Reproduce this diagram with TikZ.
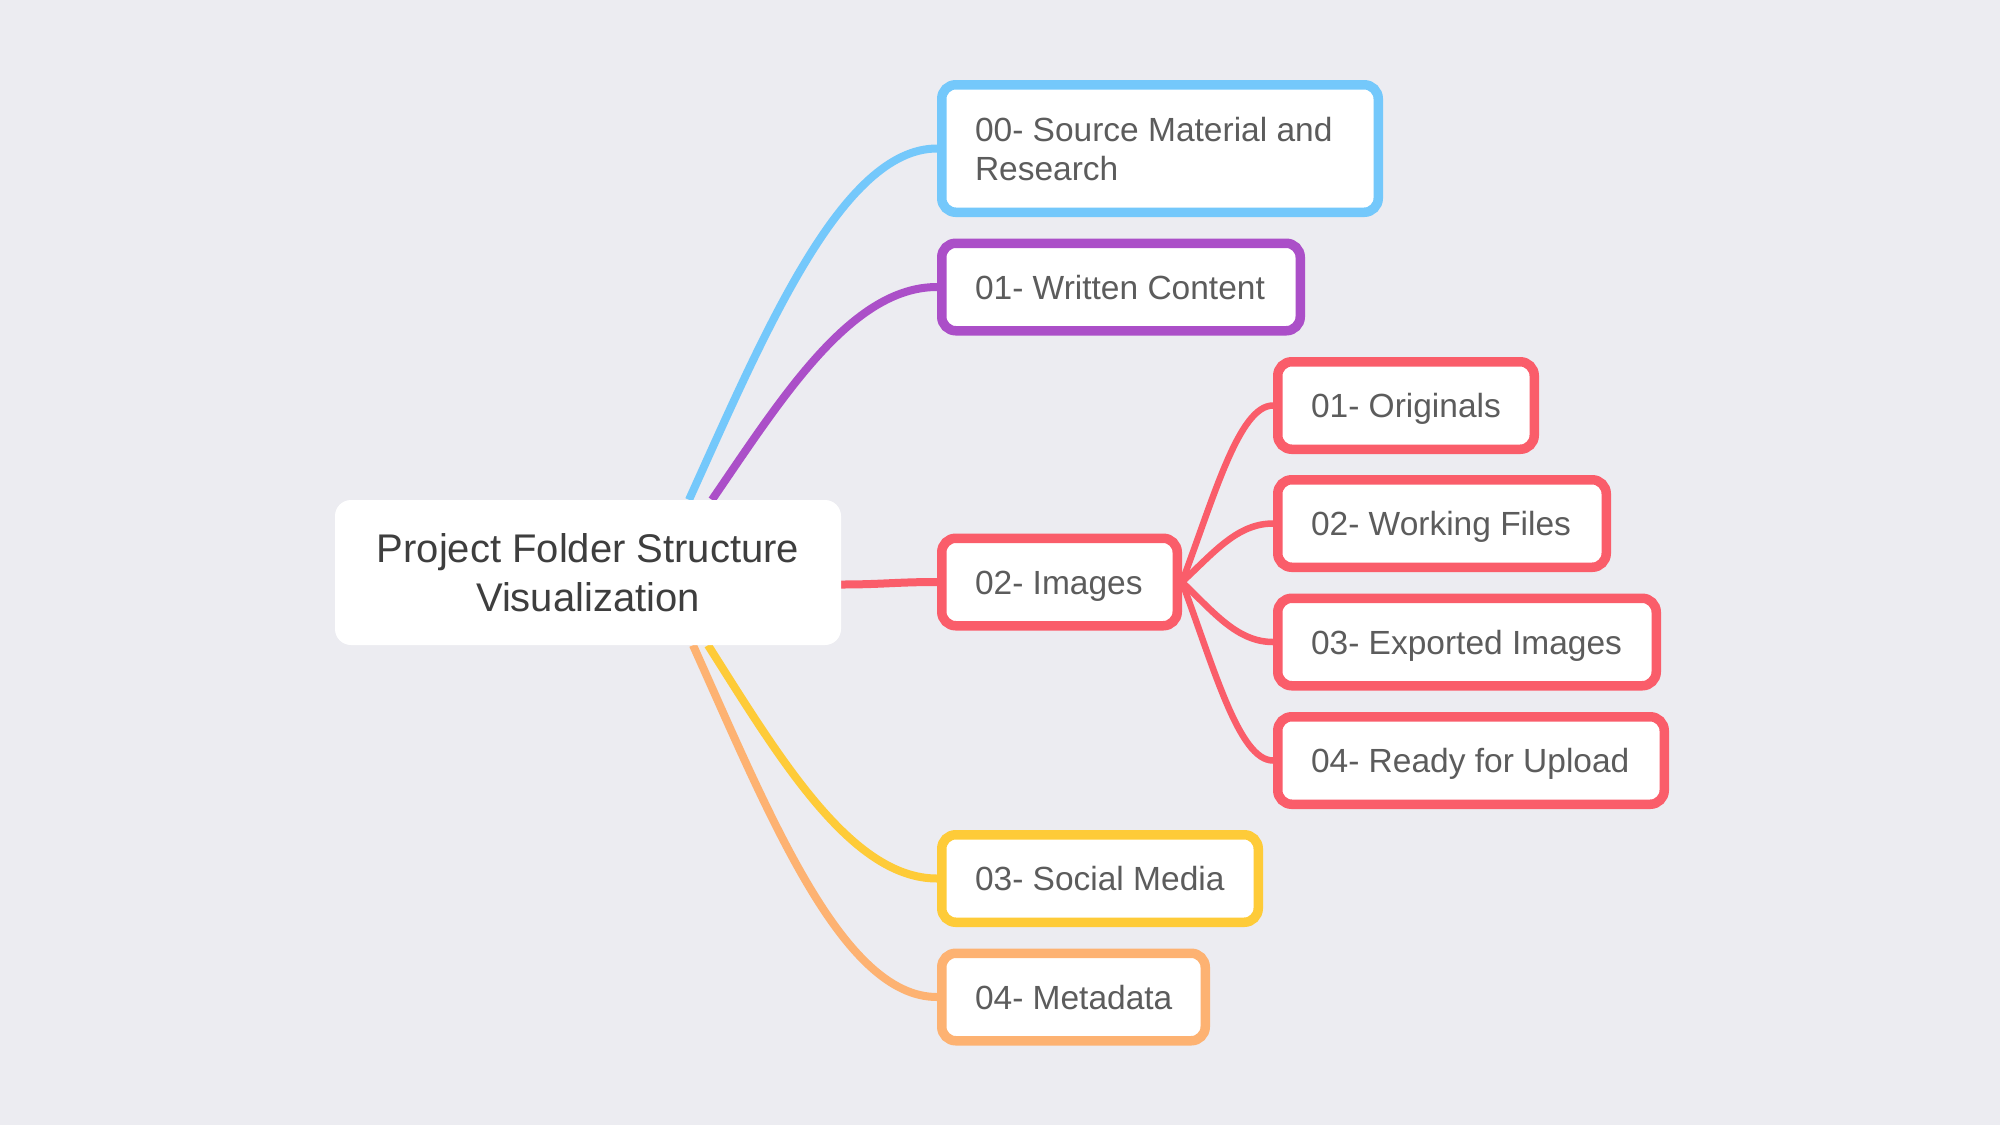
\documentclass[tikz,border=0pt]{standalone}
\usepackage{fontspec}
\setmainfont{Liberation Sans}
\usetikzlibrary{calc}
\pgfdeclarelayer{background}
\pgfsetlayers{background,main}
\definecolor{bgc}{HTML}{ECECF1}
\definecolor{cblue}{HTML}{74C8FB}
\definecolor{cpurple}{HTML}{AB4FC8}
\definecolor{cred}{HTML}{FA5D6A}
\definecolor{cyellow}{HTML}{FECB38}
\definecolor{corange}{HTML}{FDB272}
\definecolor{txt}{HTML}{5C5C5C}
\definecolor{roottxt}{HTML}{3E3E3E}
\newcommand{\lbox}[2]{\makebox[#1pt][l]{#2}}
\begin{document}
\begin{tikzpicture}[x=1pt,y=-1pt,
  box/.style={line width=9.5pt, rounded corners=14pt, fill=white, text=txt,
    inner xsep=33.25pt, inner ysep=0pt, text height=24pt, text depth=0pt,
    minimum height=87.5pt, font=\fontsize{33.5}{39}\selectfont},
  rootbox/.style={fill=white, rounded corners=16pt, text=roottxt, align=center,
    inner sep=0pt, text height=77.6pt, text depth=0pt,
    minimum width=506pt, minimum height=145pt, font=\fontsize{40}{49}\selectfont},
  conn/.style={line width=8pt},
  subconn/.style={line width=6.5pt, cred}]

\node[rootbox] (root) at (588,572.5) {Project Folder Structure\\Visualization};

\node[box, draw=cblue, align=left, text height=63pt, minimum height=127.5pt] (src) at (1160,148.5) {\lbox{370}{00- Source Material and}\\Research};
\node[box, draw=cpurple] (wrt) at (1121,287) {\lbox{292}{01- Written Content}};
\node[box, draw=cred] (img) at (1059.5,582) {\lbox{169}{02- Images}};
\node[box, draw=cred] (ori) at (1406,405.5) {\lbox{190}{01- Originals}};
\node[box, draw=cred] (wrk) at (1442,523.5) {\lbox{262}{02- Working Files}};
\node[box, draw=cred] (exp) at (1467,642) {\lbox{312}{03- Exported Images}};
\node[box, draw=cred] (rdy) at (1471,760.5) {\lbox{320}{04- Ready for Upload}};
\node[box, draw=cyellow] (soc) at (1100,878.5) {\lbox{250}{03- Social Media}};
\node[box, draw=corange] (met) at (1073.5,997) {\lbox{197}{04- Metadata}};

\begin{pgfonlayer}{background}
\fill[bgc] (0,0) rectangle (2000,1125);
\draw[conn, cblue] ($(root.north)+(101,0)$) .. controls +(76,-168) and +(-95,0) .. (src.west);
\draw[conn, cpurple] ($(root.north)+(124,0)$) .. controls +(70,-102) and +(-86,0) .. (wrt.west);
\draw[conn, cred] ($(root.east)+(0,12)$) .. controls +(40,0) and +(-40,0) .. (img.west);
\draw[conn, cyellow] ($(root.south)+(120,0)$) .. controls +(71,112) and +(-86,0) .. (soc.west);
\draw[conn, corange] ($(root.south)+(105,0)$) .. controls +(76,169) and +(-95,0) .. (met.west);
\draw[subconn] (img.east) .. controls +(32,-85) and +(-34,0) .. (ori.west);
\draw[subconn] (img.east) .. controls +(31.5,-29) and +(-36,0) .. (wrk.west);
\draw[subconn] (img.east) .. controls +(31.5,30) and +(-36,0) .. (exp.west);
\draw[subconn] (img.east) .. controls +(32,86) and +(-34,0) .. (rdy.west);
\end{pgfonlayer}
\end{tikzpicture}
\end{document}
